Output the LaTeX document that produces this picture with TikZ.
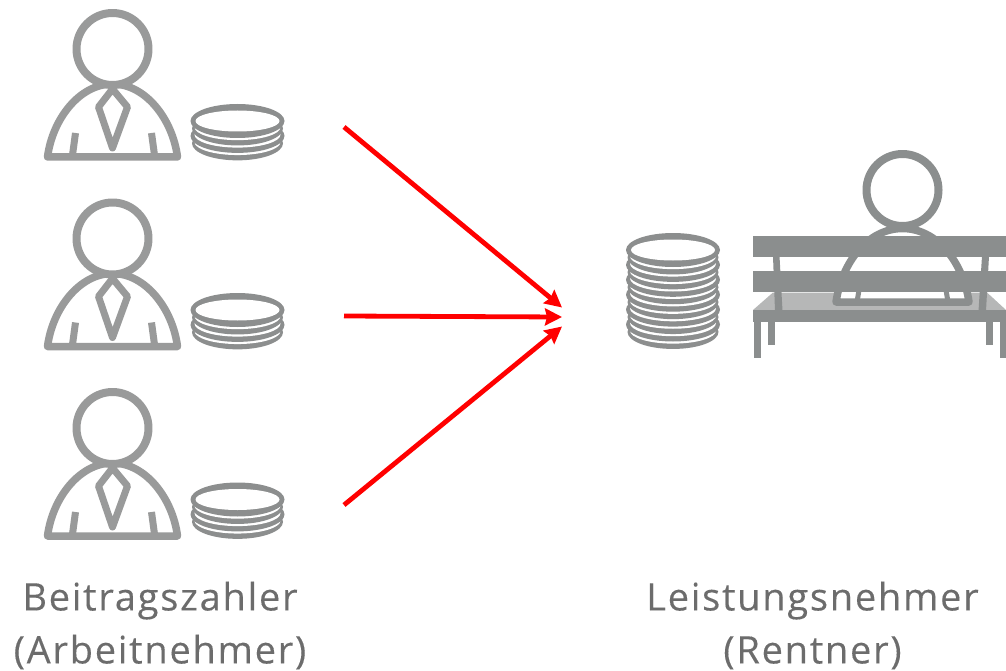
\documentclass[tikz,border=0pt]{standalone}
\usepackage{fontspec}
\setmainfont{Open Sans}[LetterSpace=4.6,FakeBold=0.25]
\usetikzlibrary{arrows.meta}
\definecolor{persongray}{HTML}{999A9A}
\definecolor{coingray}{HTML}{8C8E8E}
\definecolor{benchgray}{HTML}{8B8E8E}
\definecolor{seatgray}{HTML}{B6B7B7}
\definecolor{textgray}{HTML}{6C6C6C}
\tikzset{
  personline/.style={draw=#1,line width=7.5pt,line join=round,fill=white},
  flow/.style={draw=red,line width=4.8pt,-{Stealth[length=17pt,width=17pt,inset=2pt]}},
  caption/.style={font=\fontsize{38}{53}\selectfont,text=textgray,align=center,inner sep=0pt},
  pics/worker/.style={code={
    \draw[personline=persongray] (-65,108) .. controls (-60,70) and (-33,35) .. (0,35) .. controls (33,35) and (60,70) .. (65,108) -- cycle;
    \draw[personline=persongray,line width=7pt] (0,40) -- (-14,58) -- (0,99) -- (15,58) -- cycle;
    \draw[draw=persongray,line width=7pt] (-37,84) -- (-40,106) (39,84) -- (42,106);
    \draw[personline=persongray,line width=8pt] (0,0) circle (36);
  }},
  pics/coinstack/.style={code={
    \foreach \k in {#1,...,1} {
      \pgfmathsetmacro{\rxo}{isodd(\k)?45.5:47}
      \fill[coingray] (0,{\k*7.45}) ellipse ({\rxo} and 17);
      \fill[white] (0,{\k*7.45-1.3}) ellipse (43 and 13);
    }
    \fill[coingray] (0,0) ellipse (47 and 17);
    \fill[white] (0,0) ellipse (42 and 10.5);
  }}
}
\begin{document}
\begin{tikzpicture}[x=1pt,y=-1pt]
\useasboundingbox (0,0) rectangle (1006,671);
\pic at (112.5,49) {worker};
\pic at (112.5,238.5) {worker};
\pic at (112.5,428) {worker};
\pic at (237.5,121) {coinstack=3};
\pic at (237.5,310) {coinstack=3};
\pic at (237.5,499.5) {coinstack=3};
\pic at (673,250) {coinstack=11};
% retiree on bench
\fill[seatgray] (753,310) -- (773,292.5) -- (987,292.5) -- (1006,310) -- cycle;
\draw[personline=benchgray] (836,302) .. controls (842,262) and (868,228.5) .. (902.5,228.5) .. controls (937,228.5) and (963,262) .. (969,302) -- cycle;
\draw[draw=benchgray,line width=5pt] (859,290) -- (857,302) (946,290) -- (948,302);
\draw[personline=benchgray,line width=8pt] (902.5,190) circle (36);
\fill[benchgray] (753,236) rectangle (1006,256.7);
\fill[benchgray] (753,271) rectangle (1006,291.7);
\fill[benchgray] (773,256) -- (779.5,256) -- (782.5,311) -- (775,311) -- cycle;
\fill[benchgray] (982,256) -- (989,256) -- (986,311) -- (978.5,311) -- cycle;
\fill[benchgray] (753,310) rectangle (1006,322);
\fill[benchgray] (754,322) rectangle (761,358);
\fill[benchgray] (768,322) rectangle (774.5,344.5);
\fill[benchgray] (986,322) rectangle (993,344.5);
\fill[benchgray] (999.5,322) rectangle (1006,358);
% flows
\coordinate (s1) at (344,127);
\coordinate (s2) at (344,316);
\coordinate (s3) at (344,505);
\coordinate (t1) at (562,307.5);
\coordinate (t2) at (562,317);
\coordinate (t3) at (562,326.5);
\draw[flow] (s1) -- (t1);
\draw[flow] (s2) -- (t2);
\draw[flow] (s3) -- (t3);
\node[caption] (payers) at (160,625.5) {Beitragszahler\\(Arbeitnehmer)};
\node[caption] (receivers) at (812.5,625.5) {Leistungsnehmer\\(Rentner)};
\end{tikzpicture}
\end{document}
